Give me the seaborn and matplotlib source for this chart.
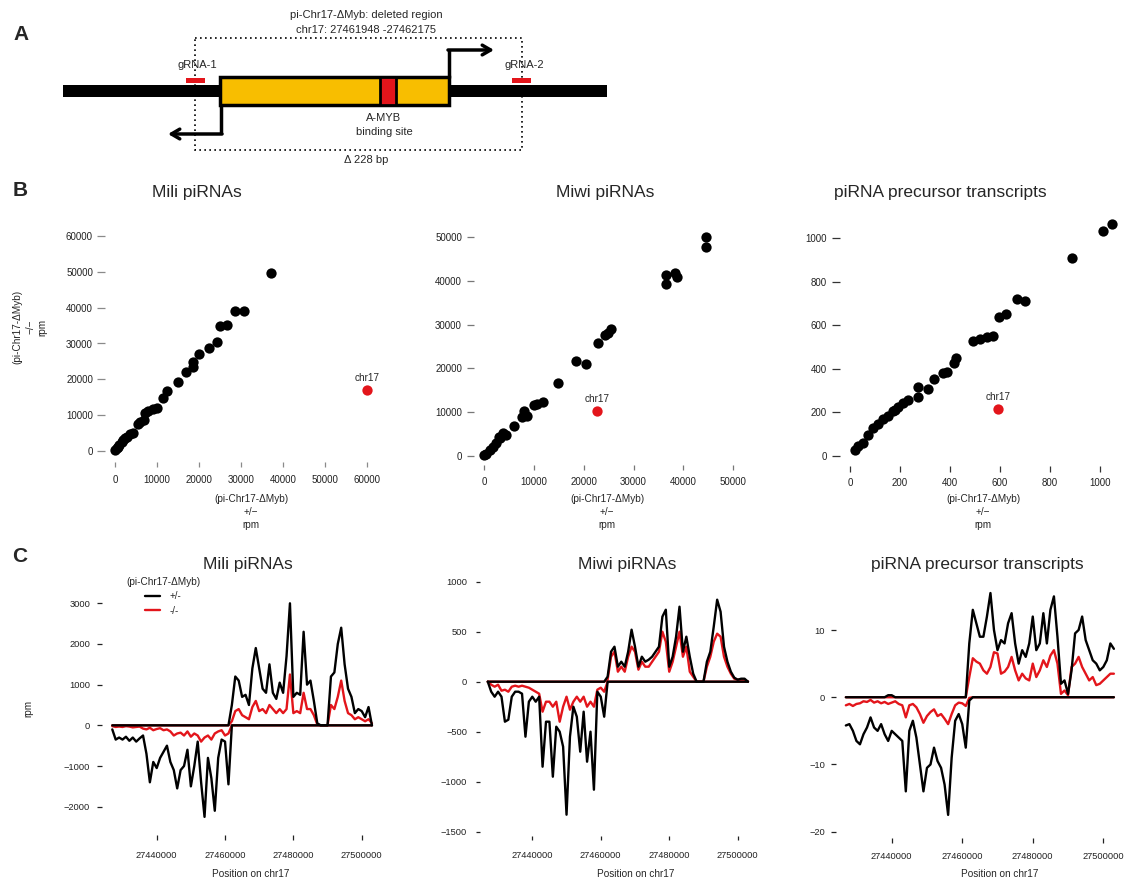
import numpy as np
import pandas as pd
import seaborn as sns
import matplotlib.pyplot as plt
from matplotlib.patches import Rectangle
from matplotlib.lines import Line2D

# ---------------- panel B: rpm per cluster, het (+/-) vs ko (-/-) ----------------
mili_het = [37100, 28600, 30800, 25000, 26600, 24400, 22300, 20000, 18700, 18700, 16900,
            15100, 12300, 11400, 9900, 9000, 7900, 7100, 6800, 6000, 5600, 4400, 3600,
            2800, 2400, 2000, 1600, 1000, 800, 400, 0]
mili_ko = [49750, 39150, 39150, 35000, 35300, 30400, 28800, 27000, 24900, 23500, 22100,
           19300, 16700, 14900, 12100, 11800, 11200, 10500, 8650, 8200, 7400, 5100, 4650,
           4000, 3500, 3100, 2600, 1700, 1200, 750, 280]
miwi_het = [44500, 44500, 36600, 36500, 38300, 38800, 25400, 24900, 24300, 22900, 18400,
            20400, 14900, 11800, 10600, 10100, 8000, 8600, 7600, 6000, 4500, 3900, 3200,
            3000, 2500, 1900, 1200, 500, 0]
miwi_ko = [50000, 47700, 41300, 39300, 41750, 40800, 29100, 28000, 27600, 25700, 21600,
           21100, 16700, 12200, 11800, 11500, 10200, 9100, 8900, 6800, 4700, 5100, 4000,
           4350, 2800, 2100, 1300, 500, 150]
prec_het = [1047, 1011, 887, 667, 700, 597, 624, 573, 547, 520, 493, 424, 417, 387, 373,
            337, 313, 273, 273, 233, 213, 193, 180, 173, 153, 133, 113, 93, 73, 53, 33, 20]
prec_ko = [1066, 1034, 911, 721, 712, 640, 651, 551, 545, 537, 529, 449, 429, 387, 383,
           352, 306, 317, 272, 258, 242, 225, 212, 209, 185, 168, 145, 129, 96, 62, 46, 27]
chr17_mili = (60000, 17000)
chr17_miwi = (22600, 10300)
chr17_prec = (591, 216)

# ---------------- panel C: coverage along chr17, 1 kb bins ----------------
positions = np.arange(27427000, 27503001, 1000)

mili_het_minus = [-100, -350, -300, -350, -280, -380, -300, -400, -320, -250, -700, -1400,
                  -900, -1050, -800, -650, -500, -900, -1100, -1550, -1100, -1000, -600,
                  -1500, -1000, -400, -1400, -2250, -800, -1300, -2100, -800, -350, -400,
                  -1450, 0] + [0] * 41
mili_het_plus = [0] * 35 + [500, 1200, 1100, 700, 750, 500, 1400, 1900, 1400, 900, 800,
                            1500, 800, 650, 1050, 800, 1700, 3000, 700, 800, 750, 2300,
                            1000, 1100, 600, 50, 0, 0, 0, 1200, 1300, 2000, 2400, 1500,
                            900, 700, 300, 400, 350, 200, 450, 0]
mili_ko_minus = [-20, -40, -30, -40, -20, -30, -50, -40, -30, -80, -100, -60, -120, -90,
                 -70, -120, -100, -150, -250, -200, -180, -250, -150, -280, -200, -250,
                 -400, -300, -250, -350, -200, -150, -120, -250, -200, 0] + [0] * 41
mili_ko_plus = [0] * 35 + [100, 350, 400, 250, 200, 150, 450, 600, 350, 400, 300, 500,
                           400, 300, 400, 300, 400, 1250, 300, 350, 300, 800, 400, 400,
                           250, 20, 0, 0, 0, 500, 400, 700, 1100, 600, 300, 250, 150,
                           200, 150, 100, 150, 50]

miwi_het_minus = [0, -100, -150, -100, -150, -400, -380, -150, -100, -100, -120, -550,
                  -200, -150, -200, -150, -850, -400, -400, -950, -450, -500, -650, -1330,
                  -550, -250, -350, -700, -300, -800, -500, -1080, -100, -150, -350,
                  0] + [0] * 41
miwi_het_plus = [0] * 35 + [50, 300, 350, 150, 200, 150, 300, 520, 350, 150, 250, 200,
                            220, 250, 300, 350, 650, 720, 150, 250, 450, 750, 300, 450,
                            250, 80, 0, 0, 0, 200, 300, 550, 820, 700, 350, 200, 100, 40,
                            20, 30, 30, 0]
miwi_ko_minus = [0, -30, -50, -30, -90, -80, -100, -50, -40, -50, -40, -50, -60, -80, -100,
                 -120, -300, -200, -200, -250, -200, -400, -250, -150, -280, -200, -150,
                 -200, -150, -250, -200, -250, -80, -60, -100, 0] + [0] * 41
miwi_ko_plus = [0] * 35 + [20, 250, 300, 100, 150, 100, 250, 350, 300, 120, 200, 150, 150,
                           200, 250, 300, 500, 400, 100, 200, 350, 500, 250, 350, 100, 50,
                           0, 0, 0, 150, 250, 400, 480, 450, 250, 150, 80, 30, 20, 20, 20, 0]

prec_het_minus = [-4.2, -4, -5, -6.5, -7, -5.5, -4.5, -3, -4.5, -5, -4, -5.5, -6.5, -5,
                  -5.5, -6, -6.5, -14, -5, -3.5, -6, -10, -14, -10.5, -10, -7.5, -9.5,
                  -10.5, -13, -17.5, -9, -3.5, -2.5, -4, -7.5, -0.5] + [0] * 41
prec_het_plus = [0] * 12 + [0.3, 0.3] + [0] * 21 + [8, 13, 11, 9, 9, 12, 15.5, 10, 7, 8.5,
                                                  8, 11, 12.5, 8, 5, 7, 6, 8, 12, 7, 8,
                                                  12.5, 8, 13, 15, 9, 2, 2.5, 0.5, 4, 9.5,
                                                  10, 12, 8.5, 7, 5.5, 5, 4, 4.5, 5.5, 8,
                                                  7.2]
prec_ko_minus = [-1.2, -1, -1.3, -1, -0.9, -0.6, -0.7, -0.4, -0.8, -0.6, -0.9, -0.7, -1,
                 -0.8, -0.6, -1, -1.2, -3, -1.2, -1, -1.5, -2.5, -3.8, -2.8, -2.2, -1.8,
                 -2.8, -2.5, -3.2, -4, -2.5, -1.2, -0.8, -0.9, -1.3, -0.1] + [0] * 41
prec_ko_plus = [0] * 35 + [3, 5.8, 5.3, 5, 4, 3.5, 4.5, 6.7, 6.5, 3.5, 3.8, 4.5, 6, 4, 2.5,
                           3.5, 2.8, 2.5, 5, 3, 4, 5.5, 4.5, 6.2, 7, 5, 0.5, 1, 0.3, 4.5,
                           5, 6, 4.5, 3.5, 2.5, 3, 1.8, 2, 2.5, 3, 3.5, 3.5]

RED = "#E3151B"
W, H = 1125, 880

sns.set_style("white")
plt.rcParams["font.family"] = ["Liberation Sans", "DejaVu Sans"]

fig = plt.figure(figsize=(W / 100, H / 100), dpi=100)

# overlay axes in pixel coordinates for the diagram and free text
ov = fig.add_axes([0, 0, 1, 1])
ov.set_xlim(0, W)
ov.set_ylim(H, 0)
ov.axis("off")


def new_axes(box):
    l, r, t, b = box
    return fig.add_axes([l / W, 1 - b / H, (r - l) / W, (b - t) / H])


def calibrate(ax, box, xcal, ycal):
    # map pixel box to data limits using two reference ticks per axis
    l, r, t, b = box
    (p1, v1), (p2, v2) = xcal
    k = (v2 - v1) / (p2 - p1)
    ax.set_xlim(v1 + (l - p1) * k, v1 + (r - p1) * k)
    (q1, w1), (q2, w2) = ycal
    k = (w2 - w1) / (q2 - q1)
    ax.set_ylim(w1 + (b - q1) * k, w1 + (t - q1) * k)


def style(ax, xticks, yticks, ylen, xlen, ypad, xpad, color, size):
    for s in ax.spines.values():
        s.set_visible(False)
    ax.set_xticks(xticks)
    ax.set_yticks(yticks)
    ax.ticklabel_format(style="plain", useOffset=False)
    ax.tick_params(axis="y", left=True, direction="out", length=ylen * 0.72,
                   pad=ypad * 0.72, width=0.9, color=color, labelsize=size,
                   labelcolor="#222222")
    ax.tick_params(axis="x", bottom=True, direction="out", length=xlen * 0.72,
                   pad=xpad * 0.72, width=0.9, color=color, labelsize=size,
                   labelcolor="#222222")
    ax.set_xlabel("")
    ax.set_ylabel("")
    ax.patch.set_alpha(0)


# ---------------- panel A ----------------
ov.text(21, 34, "A", fontsize=15, fontweight="bold", ha="center", va="center")
ov.add_patch(Rectangle((195, 38), 327, 112, fill=False, ls=(0, (1, 2)), lw=1.2,
                       ec="black", zorder=1))
ov.add_patch(Rectangle((63, 85), 544, 12, fc="black", ec="none", zorder=2))
ov.add_patch(Rectangle((220, 77), 229, 28, fc="#F8BE00", ec="black", lw=2.5, zorder=3))
ov.add_patch(Rectangle((380, 77), 16, 28, fc=RED, ec="black", lw=2, zorder=4))
ov.add_patch(Rectangle((186, 78), 19, 5, fc=RED, ec="none", zorder=4))
ov.add_patch(Rectangle((512, 78), 19, 5, fc=RED, ec="none", zorder=4))
ov.plot([449, 449], [78, 50], color="black", lw=2.5, solid_capstyle="butt", zorder=5)
ov.annotate("", xy=(494, 50), xytext=(448, 50),
            arrowprops=dict(arrowstyle="->,head_length=0.6,head_width=0.35", lw=2.5,
                            color="black", shrinkA=0, shrinkB=0), zorder=5)
ov.plot([221, 221], [104, 134], color="black", lw=2.5, solid_capstyle="butt", zorder=5)
ov.annotate("", xy=(168, 134), xytext=(222, 134),
            arrowprops=dict(arrowstyle="->,head_length=0.6,head_width=0.35", lw=2.5,
                            color="black", shrinkA=0, shrinkB=0), zorder=5)
ov.text(366, 15, "pi-Chr17-ΔMyb: deleted region", fontsize=8, ha="center", va="center")
ov.text(366, 30, "chr17: 27461948 -27462175", fontsize=8, ha="center", va="center")
ov.text(197, 65, "gRNA-1", fontsize=8, ha="center", va="center")
ov.text(524, 65, "gRNA-2", fontsize=8, ha="center", va="center")
ov.text(384, 118, "A-MYB", fontsize=8, ha="center", va="center")
ov.text(384, 132, "binding site", fontsize=8, ha="center", va="center")
ov.text(366, 160, "Δ 228 bp", fontsize=8, ha="center", va="center")

# ---------------- panel B ----------------
ov.text(20, 190, "B", fontsize=15, fontweight="bold", ha="center", va="center")
scatter_panels = [
    ("Mili piRNAs", mili_het, mili_ko, chr17_mili, (105, 378, 220, 462),
     ((115, 0), (366.7, 60000)), ((451, 0), (236, 60000)),
     range(0, 60001, 10000), range(0, 60001, 10000), (8, 5, 4, 8), "#8a8a8a",
     197, 251),
    ("Miwi piRNAs", miwi_het, miwi_ko, chr17_miwi, (474, 745, 220, 465),
     ((484, 0), (733.3, 50000)), ((455.7, 0), (237.3, 50000)),
     range(0, 50001, 10000), range(0, 50001, 10000), (7, 5, 5, 7), "#777777",
     605, 607),
    ("piRNA precursor transcripts", prec_het, prec_ko, chr17_prec, (840, 1120, 215, 466),
     ((850, 0), (1100, 1000)), ((456, 0), (238.3, 1000)),
     range(0, 1001, 200), range(0, 1001, 200), (8, 6, 5, 6), "#333333",
     940, 983),
]
for (title, het, ko, hit, box, xcal, ycal, xt, yt, tk, tcol, tx, lx) in scatter_panels:
    ax = new_axes(box)
    sns.scatterplot(x=het, y=ko, color="black", s=55, linewidth=0, clip_on=False, ax=ax)
    ax.scatter([hit[0]], [hit[1]], color=RED, s=55, linewidth=0, clip_on=False, zorder=3)
    ax.annotate("chr17", hit, xytext=(0, 5), textcoords="offset points", ha="center",
                va="bottom", fontsize=7.2)
    calibrate(ax, box, xcal, ycal)
    style(ax, list(xt), list(yt), tk[0], tk[1], tk[2], tk[3], tcol, 7)
    ov.text(tx, 192, title, fontsize=12.5, ha="center", va="center")
    ov.text(lx, 512, "(pi-Chr17-ΔMyb)\n+/−\nrpm", fontsize=7.2, ha="center",
            va="center", linespacing=1.35)

ov.text(30, 327, "(pi-Chr17-ΔMyb)\n−/−\nrpm", fontsize=7.2, ha="center", va="center",
        rotation=90, linespacing=1.3)

# ---------------- panel C ----------------
ov.text(20, 556, "C", fontsize=15, fontweight="bold", ha="center", va="center")
genotype_colors = {"+/-": "black", "-/-": RED}
line_panels = [
    ("Mili piRNAs", (mili_het_plus, mili_het_minus, mili_ko_plus, mili_ko_minus),
     (102, 378, 580, 835), ((156.7, 27440000), (361.7, 27500000)),
     ((603.3, 3000), (806.7, -2000)), range(-2000, 3001, 1000), (5, 5, 7, 11), 248, 251),
    ("Miwi piRNAs", (miwi_het_plus, miwi_het_minus, miwi_ko_plus, miwi_ko_minus),
     (480, 752, 575, 836), ((532.3, 27440000), (737.7, 27500000)),
     ((581.7, 1000), (831.7, -1500)), range(-1500, 1001, 500), (4, 4, 9, 11), 627, 636),
    ("piRNA precursor transcripts", (prec_het_plus, prec_het_minus, prec_ko_plus,
                                     prec_ko_minus),
     (836, 1120, 575, 838), ((891.7, 27440000), (1103.3, 27500000)),
     ((630, 10), (831.7, -20)), range(-20, 11, 10), (5, 5, 6, 9), 977, 1000),
]
for idx, (title, traces, box, xcal, ycal, yt, tk, tx, lx) in enumerate(line_panels):
    het_p, het_m, ko_p, ko_m = traces
    frames = []
    for geno, strand, vals in [("-/-", "plus", ko_p), ("-/-", "minus", ko_m),
                               ("+/-", "plus", het_p), ("+/-", "minus", het_m)]:
        assert len(vals) == len(positions)
        frames.append(pd.DataFrame({"pos": positions, "rpm": vals,
                                    "genotype": geno, "strand": strand}))
    df = pd.concat(frames, ignore_index=True)
    ax = new_axes(box)
    sns.lineplot(data=df, x="pos", y="rpm", hue="genotype", units="strand",
                 estimator=None, hue_order=["-/-", "+/-"], palette=genotype_colors,
                 lw=1.7, legend=False, ax=ax)
    calibrate(ax, box, xcal, ycal)
    style(ax, [27440000, 27460000, 27480000, 27500000], list(yt), tk[0], tk[1], tk[2],
          tk[3], "#222222", 6.7)
    ov.text(tx, 564, title, fontsize=12.5, ha="center", va="center")
    ov.text(lx, 874, "Position on chr17", fontsize=7.2, ha="center", va="center")
    if idx == 0:
        handles = [Line2D([], [], color="black", lw=1.7), Line2D([], [], color=RED, lw=1.7)]
        ax.legend(handles, ["+/-", "-/-"], title="(pi-Chr17-ΔMyb)", loc="upper left",
                  bbox_to_anchor=(126 / W, 1 - 577 / H), bbox_transform=fig.transFigure,
                  frameon=False, fontsize=7, title_fontsize=7.2, handlelength=1.6,
                  handletextpad=1.0, labelspacing=0.45, borderpad=0, borderaxespad=0)

ov.text(28, 708, "rpm", fontsize=7.2, ha="center", va="center", rotation=90)

fig.savefig("out.png", dpi=100)
